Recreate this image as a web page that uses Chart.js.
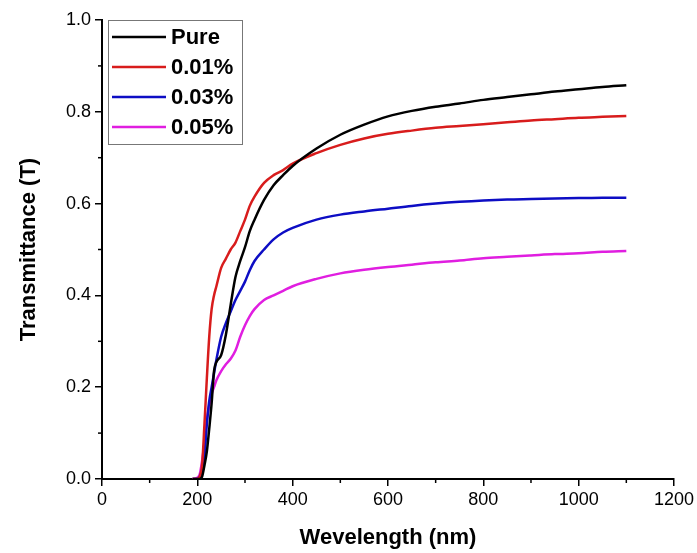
<!DOCTYPE html>
<html>
<head>
<meta charset="utf-8">
<script src="https://cdn.jsdelivr.net/npm/chart.js@4/dist/chart.umd.min.js"></script>
<style>
    body { margin: 0; background: #fff; }
    #caja { width: 697px; height: 553px; }
</style>
</head>
<body>
<div id="caja"><canvas id="grafico"></canvas></div>
<script>
const wavelengths = [190, 200, 205, 210, 215, 220, 225, 230, 235, 240, 250, 260, 270, 280, 290, 300, 310, 320, 340, 360, 380, 400, 450, 500, 550, 600, 650, 700, 750, 800, 850, 900, 950, 1000, 1050, 1100];
const pure    = [0, 0, 0, 0.005, 0.03, 0.06, 0.11, 0.165, 0.235, 0.255, 0.27, 0.315, 0.38, 0.44, 0.475, 0.505, 0.54, 0.565, 0.608, 0.64, 0.662, 0.682, 0.72, 0.75, 0.772, 0.79, 0.802, 0.811, 0.818, 0.826, 0.832, 0.838, 0.844, 0.849, 0.854, 0.858];
const conc001 = [0, 0, 0.005, 0.03, 0.12, 0.22, 0.31, 0.37, 0.4, 0.42, 0.46, 0.48, 0.5, 0.515, 0.54, 0.565, 0.595, 0.615, 0.645, 0.662, 0.673, 0.687, 0.71, 0.728, 0.742, 0.752, 0.759, 0.765, 0.769, 0.773, 0.777, 0.781, 0.784, 0.787, 0.789, 0.791];
const conc003 = [0, 0, 0.005, 0.02, 0.05, 0.12, 0.17, 0.2, 0.23, 0.26, 0.31, 0.34, 0.365, 0.39, 0.41, 0.43, 0.455, 0.475, 0.5, 0.522, 0.537, 0.547, 0.565, 0.576, 0.583, 0.589, 0.595, 0.6, 0.604, 0.607, 0.609, 0.61, 0.611, 0.612, 0.613, 0.613];
const conc005 = [0, 0.003, 0.01, 0.04, 0.08, 0.13, 0.16, 0.185, 0.2, 0.215, 0.235, 0.25, 0.262, 0.28, 0.31, 0.335, 0.355, 0.37, 0.39, 0.4, 0.41, 0.42, 0.436, 0.448, 0.456, 0.462, 0.467, 0.472, 0.476, 0.481, 0.484, 0.487, 0.49, 0.492, 0.495, 0.497];

const series = ["Pure", "0.01%", "0.03%", "0.05%"];
const valores = [pure, conc001, conc003, conc005];
const colores = ["#000000", "#d81c1c", "#0d0dc4", "#e01ee0"];

const minorX = [100, 300, 500, 700, 900, 1100];
const minorY = [0.1, 0.3, 0.5, 0.7, 0.9];

const fuente = "'Liberation Sans', Arial, sans-serif";

// marcas menores + leyenda con recuadro
const extras = {
    id: "extras",
    afterDraw(chart) {
        const ctx = chart.ctx;
        const sx = chart.scales.x;
        const sy = chart.scales.y;
        const area = chart.chartArea;
        ctx.save();
        ctx.strokeStyle = "#000";
        ctx.lineWidth = 1.5;
        minorX.forEach(v => {
            const px = sx.getPixelForValue(v);
            ctx.beginPath();
            ctx.moveTo(px, area.bottom);
            ctx.lineTo(px, area.bottom + 4);
            ctx.stroke();
        });
        minorY.forEach(v => {
            const py = sy.getPixelForValue(v);
            ctx.beginPath();
            ctx.moveTo(area.left, py);
            ctx.lineTo(area.left - 4, py);
            ctx.stroke();
        });

        // leyenda
        const x0 = area.left + 6, y0 = area.top, w = 134, h = 124;
        ctx.fillStyle = "#fff";
        ctx.fillRect(x0, y0, w, h);
        ctx.strokeStyle = "#777";
        ctx.lineWidth = 1;
        ctx.strokeRect(x0 + 0.5, y0 + 0.5, w, h);
        ctx.font = "bold 22px " + fuente;
        ctx.textBaseline = "middle";
        chart.data.datasets.forEach((ds, i) => {
            const cy = y0 + 17 + i * 30;
            ctx.strokeStyle = ds.borderColor;
            ctx.lineWidth = 2.5;
            ctx.beginPath();
            ctx.moveTo(x0 + 4, cy);
            ctx.lineTo(x0 + 58, cy);
            ctx.stroke();
            ctx.fillStyle = "#000";
            ctx.fillText(ds.label, x0 + 63, cy + 1);
        });
        ctx.restore();
    }
};

const datasets = series.map((nombre, i) => ({
    label: nombre,
    data: wavelengths.map((w, j) => ({ x: w, y: valores[i][j] })),
    borderColor: colores[i],
    backgroundColor: colores[i],
    borderWidth: 2.5,
    pointRadius: 0,
    cubicInterpolationMode: "monotone",
    fill: false
}));

new Chart(document.getElementById("grafico"), {
    type: "line",
    data: { datasets: datasets },
    options: {
        responsive: true,
        maintainAspectRatio: false,
        animation: false,
        layout: { padding: { top: 20, right: 23, left: 0, bottom: 0 } },
        plugins: {
            legend: { display: false },
            tooltip: { enabled: false }
        },
        scales: {
            x: {
                type: "linear",
                min: 0,
                max: 1200,
                afterFit: (scale) => { scale.height = 74; },
                ticks: { stepSize: 200, color: "#000", padding: 3, font: { family: fuente, size: 18 },
                    callback: (v) => String(v) },
                grid: { drawOnChartArea: false, drawTicks: true, tickLength: 7, color: "#000", lineWidth: 1.5 },
                border: { display: true, color: "#000", width: 2 },
                title: { display: true, text: "Wevelength (nm)", color: "#000", padding: { top: 0, bottom: 2 }, font: { family: fuente, size: 22, weight: "bold" } }
            },
            y: {
                min: 0,
                max: 1.0,
                afterFit: (scale) => { scale.width = 102; },
                ticks: { stepSize: 0.2, color: "#000", padding: 4, font: { family: fuente, size: 18 },
                    callback: (v) => Number(v).toFixed(1) },
                grid: { drawOnChartArea: false, drawTicks: true, tickLength: 7, color: "#000", lineWidth: 1.5 },
                border: { display: true, color: "#000", width: 2 },
                title: { display: true, text: "Transmittance (T)", color: "#000", padding: { top: 16, bottom: 0 }, font: { family: fuente, size: 22, weight: "bold" } }
            }
        }
    },
    plugins: [extras]
});
</script>
</body>
</html>
